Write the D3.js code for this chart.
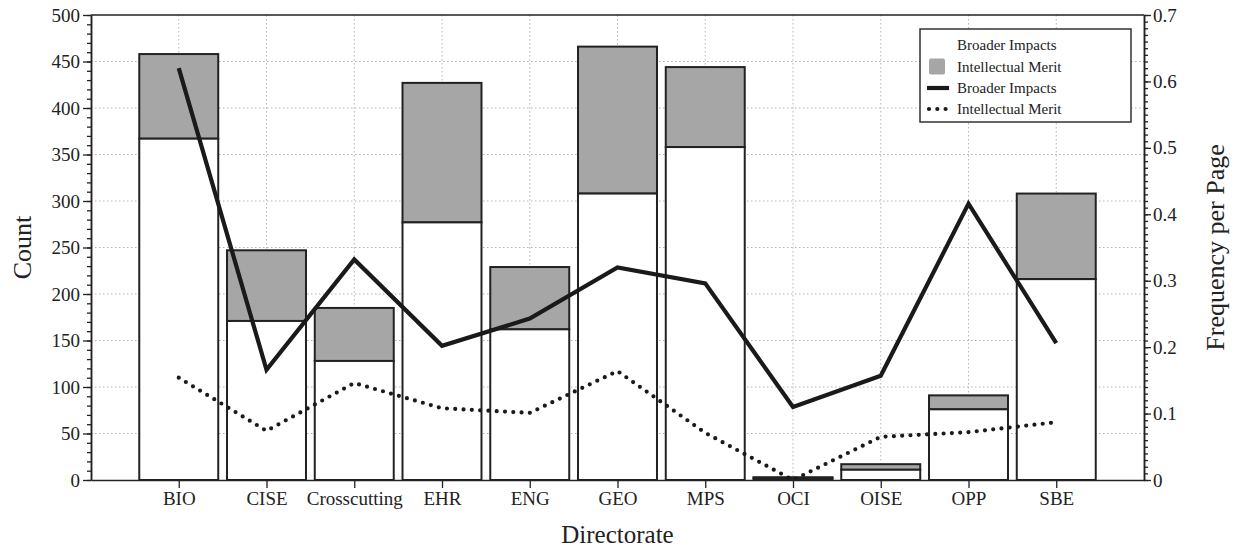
<!DOCTYPE html>
<html><head><meta charset="utf-8">
<script src="https://cdn.jsdelivr.net/npm/d3@7"></script>
<style>
body{margin:0;background:#fff}
svg{display:block}
text{font-family:"Liberation Serif","Times New Roman",serif;fill:#222}
</style>
</head><body><svg id="c" width="1239" height="550"></svg>
<script>
const categories = ["BIO","CISE","Crosscutting","EHR","ENG","GEO","MPS","OCI","OISE","OPP","SBE"];
const broaderCounts = [367,171,128,277,162,308,358,2,11,76,216];
const meritCounts   = [91,76,57,150,67,158,86,1,6,15,92];
const broaderFreq = [0.620,0.166,0.332,0.202,0.243,0.320,0.296,0.110,0.157,0.416,0.206];
const meritFreq   = [0.154,0.074,0.146,0.108,0.101,0.164,0.071,0.000,0.065,0.072,0.087];
const countTicks = [0,50,100,150,200,250,300,350,400,450,500];
const freqTicks = [0,0.1,0.2,0.3,0.4,0.5,0.6,0.7];
const legendLabels = ["Broader Impacts","Intellectual Merit","Broader Impacts","Intellectual Merit"];

const svg = d3.select("#c");
const L = 91, R = 1144, T = 15, B = 480;
const x = d3.scalePoint().domain(categories).range([L, R]).padding(1);
const y = d3.scaleLinear().domain([0, 500]).range([B, T]);
const y2 = d3.scaleLinear().domain([0, 0.7]).range([B, T]);
const bw = x.step() * 0.9;
const ink = "#222";

// grid
const grid = svg.append("g");
grid.selectAll("line.h").data(countTicks.filter(d => d > 0 && d < 500)).join("line")
  .attr("x1", L).attr("x2", R).attr("y1", d => y(d)).attr("y2", d => y(d))
  .attr("stroke", "#b5b5b5").attr("stroke-width", 1).attr("stroke-dasharray", "1.5,2.5");
grid.selectAll("line.v").data(categories).join("line")
  .attr("x1", d => x(d)).attr("x2", d => x(d)).attr("y1", T).attr("y2", B)
  .attr("stroke", "#b5b5b5").attr("stroke-width", 1).attr("stroke-dasharray", "1.5,2.5");

// bars
const bars = svg.append("g");
categories.forEach((c, i) => {
  const b = broaderCounts[i], m = meritCounts[i];
  bars.append("rect").attr("x", x(c) - bw/2).attr("width", bw)
    .attr("y", y(b + m)).attr("height", y(b) - y(b + m))
    .attr("fill", "#a6a6a6").attr("stroke", ink).attr("stroke-width", 2);
  bars.append("rect").attr("x", x(c) - bw/2).attr("width", bw)
    .attr("y", y(b)).attr("height", y(0) - y(b))
    .attr("fill", "#fff").attr("stroke", ink).attr("stroke-width", 2);
});

// lines
const line = d3.line().x((d, i) => x(categories[i])).y(d => y2(d));
svg.append("path").datum(broaderFreq).attr("d", line)
  .attr("fill", "none").attr("stroke", "#1a1a1a").attr("stroke-width", 4.2).attr("stroke-linejoin", "miter");
svg.append("path").datum(meritFreq).attr("d", line)
  .attr("fill", "none").attr("stroke", "#1a1a1a").attr("stroke-width", 4.2)
  .attr("stroke-linecap", "round").attr("stroke-dasharray", "0,8.3");

// frame
svg.append("line").attr("x1", L).attr("x2", R).attr("y1", T).attr("y2", T).attr("stroke", ink).attr("stroke-width", 1.5);

// axes
function styleAxis(g) {
  g.selectAll(".domain").attr("stroke", ink).attr("stroke-width", 1.5);
  g.selectAll(".tick line").attr("stroke", ink).attr("stroke-width", 1.3);
  g.selectAll("text").attr("font-family", '"Liberation Serif",serif').attr("font-size", 19).attr("fill", "#222");
}
const minorCounts = d3.range(0, 501, 10);
svg.append("g").attr("transform", `translate(${L},0)`)
  .call(d3.axisLeft(y).tickValues(minorCounts).tickSize(4).tickSizeOuter(0).tickFormat(""))
  .call(styleAxis);
svg.append("g").attr("transform", `translate(${L},0)`)
  .call(d3.axisLeft(y).tickValues(countTicks).tickSize(8).tickSizeOuter(0).tickPadding(3).tickFormat(d3.format("d")))
  .call(styleAxis);

const minorFreq = d3.range(0, 71).map(d => d / 100);
svg.append("g").attr("transform", `translate(${R},0)`)
  .call(d3.axisRight(y2).tickValues(minorFreq).tickSize(4).tickSizeOuter(0).tickFormat(""))
  .call(styleAxis);
svg.append("g").attr("transform", `translate(${R},0)`)
  .call(d3.axisRight(y2).tickValues(freqTicks).tickSize(7).tickSizeOuter(0).tickPadding(2).tickFormat(d => d === 0 ? "0" : d3.format(".1f")(d)))
  .call(styleAxis);

svg.append("g").attr("transform", `translate(0,${B})`)
  .call(d3.axisBottom(x).tickSize(8).tickSizeOuter(0).tickPadding(4))
  .call(styleAxis);

// axis titles
svg.append("text").attr("x", (L + R) / 2).attr("y", 543).attr("text-anchor", "middle")
  .attr("font-size", 25).text("Directorate");
svg.append("text").attr("transform", `translate(31,${(T + B) / 2}) rotate(-90)`).attr("text-anchor", "middle")
  .attr("font-size", 26).text("Count");
svg.append("text").attr("transform", `translate(1224,${(T + B) / 2}) rotate(-90)`).attr("text-anchor", "middle")
  .attr("font-size", 26).text("Frequency per Page");

// legend
const lg = svg.append("g");
lg.append("rect").attr("x", 920).attr("y", 29).attr("width", 211).attr("height", 93)
  .attr("fill", "#fff").attr("stroke", "#333").attr("stroke-width", 1.5);
const rows = [45, 66.5, 88, 109];
lg.append("rect").attr("x", 929).attr("y", rows[1] - 8).attr("width", 16).attr("height", 16)
  .attr("rx", 2).attr("fill", "#a6a6a6");
lg.append("line").attr("x1", 927).attr("x2", 949).attr("y1", rows[2]).attr("y2", rows[2])
  .attr("stroke", "#1a1a1a").attr("stroke-width", 4.2);
lg.append("line").attr("x1", 929).attr("x2", 949).attr("y1", rows[3]).attr("y2", rows[3])
  .attr("stroke", "#1a1a1a").attr("stroke-width", 4.2).attr("stroke-linecap", "round").attr("stroke-dasharray", "0,8.3");
lg.selectAll("text.l").data(legendLabels).join("text")
  .attr("x", 957).attr("y", (d, i) => rows[i]).attr("dy", "0.35em")
  .attr("font-size", 15).text(d => d);
</script>
</body></html>
